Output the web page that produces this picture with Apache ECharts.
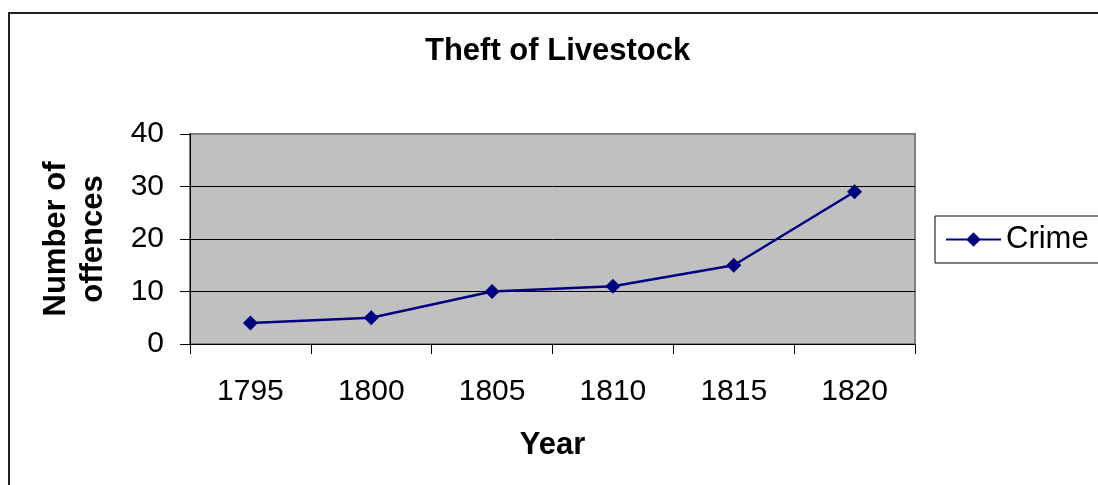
<!DOCTYPE html>
<html>
<head>
<meta charset="utf-8">
<script src="https://cdn.jsdelivr.net/npm/echarts@6/dist/echarts.min.js"></script>
<style>
  html,body{margin:0;padding:0;background:#fff;}
  #chart{width:1098px;height:485px;}
</style>
</head>
<body>
<div id="chart"></div>
<script>
const years = ['1795', '1800', '1805', '1810', '1815', '1820']
const crime = [4, 5, 10, 11, 15, 29]

const chart = echarts.init(document.getElementById('chart'))
const font = 'Liberation Sans, Arial, sans-serif'

const option = {
  animation: false,
  textStyle: { fontFamily: font },
  graphic: [
    {
      type: 'rect',
      shape: { x: 9, y: 13, width: 1200, height: 600 },
      style: { fill: 'none', stroke: '#222', lineWidth: 2 },
      z: 0
    }
  ],
  title: {
    text: 'Theft of Livestock',
    left: 425,
    top: 36,
    padding: 0,
    textStyle: { fontSize: 31, fontWeight: 'bold', color: '#000', fontFamily: font }
  },
  legend: {
    data: ['Crime'],
    left: 935,
    top: 216,
    padding: [8, 10, 8, 10],
    borderColor: '#000',
    borderWidth: 1,
    itemWidth: 55,
    itemHeight: 18,
    textStyle: { fontSize: 31, color: '#000', fontFamily: font }
  },
  grid: {
    left: 190,
    right: 183,
    top: 134,
    bottom: 141,
    show: true,
    backgroundColor: '#c0c0c0',
    borderColor: '#808080',
    borderWidth: 2
  },
  xAxis: {
    type: 'category',
    data: years,
    boundaryGap: true,
    name: 'Year',
    nameLocation: 'middle',
    nameGap: 101,
    nameTextStyle: { fontSize: 31, fontWeight: 'bold', color: '#000', verticalAlign: 'middle' },
    axisLine: { lineStyle: { color: '#000', width: 1 } },
    axisTick: { show: true, length: 10, lineStyle: { color: '#000' } },
    axisLabel: { fontSize: 30, color: '#000', margin: 33 },
    splitLine: { show: false }
  },
  yAxis: {
    type: 'value',
    min: 0,
    max: 40,
    interval: 10,
    name: 'Number of\noffences',
    nameLocation: 'middle',
    nameGap: 115,
    nameRotate: 90,
    nameTextStyle: { fontSize: 31, fontWeight: 'bold', color: '#000', lineHeight: 37, verticalAlign: 'middle', align: 'center' },
    axisLine: { show: true, lineStyle: { color: '#000', width: 1 } },
    axisTick: { show: true, length: 10, lineStyle: { color: '#000' } },
    axisLabel: { fontSize: 30, color: '#000', margin: 26 },
    splitLine: { show: true, lineStyle: { color: ['#000', '#000', '#000', '#000', '#808080'], width: 1 } }
  },
  series: [
    {
      name: 'Crime',
      type: 'line',
      data: crime,
      symbol: 'diamond',
      symbolSize: 15,
      lineStyle: { color: '#000080', width: 2.5 },
      itemStyle: { color: '#000080' }
    }
  ]
}
chart.setOption(option)
</script>
</body>
</html>
